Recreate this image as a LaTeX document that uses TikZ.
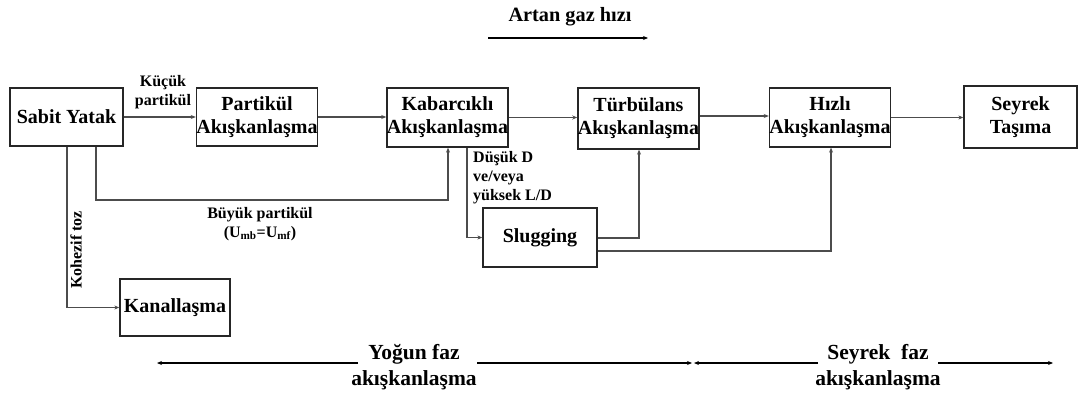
\documentclass[tikz,border=0pt]{standalone}
\usepackage{fontspec}
\setmainfont{Liberation Serif}
\usetikzlibrary{arrows.meta,calc}
\tikzset{
  box/.style={draw=black!85, line width=1.3pt, inner sep=0pt, align=center, font=\bfseries\fontsize{20}{23}\selectfont},
  conn/.style={draw=black!70, line width=1.5pt},
  tip/.style={-{Stealth[length=5pt,width=4pt]}},
  lbl/.style={inner sep=0pt, font=\bfseries\fontsize{16}{19}\selectfont},
  biglbl/.style={inner sep=0pt, align=center, font=\bfseries\fontsize{21.5}{26}\selectfont},
  phase/.style={draw=black, line width=1.2pt}
}
\begin{document}
\begin{tikzpicture}[x=1pt,y=-1pt]
\useasboundingbox (0,0) rectangle (1078,396);
% boxes
\node[box, minimum width=113pt, minimum height=58pt] (sy) at (66.5,117) {Sabit Yatak};
\node[box, minimum width=114pt, minimum height=58pt] (pa) at (257,117) {Partikül\\Akışkanlaşma};
\node[box, minimum width=113pt, minimum height=59pt] (kb) at (447.5,117.5) {Kabarcıklı\\Akışkanlaşma};
\node[box, minimum width=113pt, minimum height=61pt] (tb) at (638.5,118.5) {Türbülans\\Akışkanlaşma};
\node[box, minimum width=116pt, minimum height=59pt] (hz) at (830,117.5) {Hızlı\\Akışkanlaşma};
\node[box, minimum width=113pt, minimum height=62pt] (st) at (1020.5,117) {Seyrek\\Taşıma};
\node[box, minimum width=114pt, minimum height=59pt] (sl) at (540,237.5) {Slugging};
\node[box, minimum width=110pt, minimum height=57pt] (kn) at (175,307.5) {Kanallaşma};
% main row connectors
\draw[conn,tip] (sy.east) -- (sy.east -| pa.west);
\draw[conn,tip] (pa.east) -- (pa.east -| kb.west);
\draw[conn,tip] (kb.east) -- (kb.east -| tb.west);
\draw[conn,tip] (tb.east |- 0,116) -- (hz.west |- 0,116);
\draw[conn,tip] (hz.east) -- (hz.east -| st.west);
% bypasses
\coordinate (c1) at (96,200);
\coordinate (c2) at (448,200);
\draw[conn,tip] (c1 |- sy.south) -- (c1) -- (c2) -- (c2 |- kb.south);
\coordinate (k1) at (67,307.5);
\draw[conn,tip] (k1 |- sy.south) -- (k1) -- (kn.west);
\coordinate (d1) at (467,237.5);
\draw[conn,tip] (d1 |- kb.south) -- (d1) -- (sl.west);
\coordinate (s1) at (639,238);
\draw[conn,tip] (sl.east |- s1) -- (s1) -- (s1 |- tb.south);
\coordinate (s2) at (831,251);
\draw[conn,tip] (sl.east |- s2) -- (s2) -- (s2 |- hz.south);
% labels
\node[lbl, align=center] (lk) at (163,92.5) {Küçük\\partikül};
\node[lbl, align=center] (lb) at (260,224) {Büyük partikül\\(U\textsubscript{mb}=U\textsubscript{mf})};
\node[lbl, align=left, anchor=west] (ld) at (473,177.5) {Düşük D\\ve/veya\\yüksek L/D};
\node[lbl, rotate=90] (lh) at (76,250) {Kohezif toz};
% top
\node[biglbl, font=\bfseries\fontsize{20.3}{24}\selectfont] (ag) at (570,17) {Artan gaz hızı};
\coordinate (a1) at (488,38);
\coordinate (a2) at (648,38);
\draw[phase,tip] (a1) -- (a2);
% bottom
\node[biglbl] (yf) at (414,367) {Yoğun faz\\akışkanlaşma};
\node[biglbl] (sf) at (878,367) {Seyrek\ \ faz\\akışkanlaşma};
\coordinate (l1) at (157,363);
\coordinate (l2) at (358,363);
\coordinate (l3) at (477,363);
\coordinate (l4) at (692,363);
\coordinate (l5) at (694,363);
\coordinate (l6) at (818,363);
\coordinate (l7) at (938,363);
\coordinate (l8) at (1053,363);
\draw[phase,tip] (l2) -- (l1);
\draw[phase,tip] (l3) -- (l4);
\draw[phase,tip] (l6) -- (l5);
\draw[phase,tip] (l7) -- (l8);
\end{tikzpicture}
\end{document}
